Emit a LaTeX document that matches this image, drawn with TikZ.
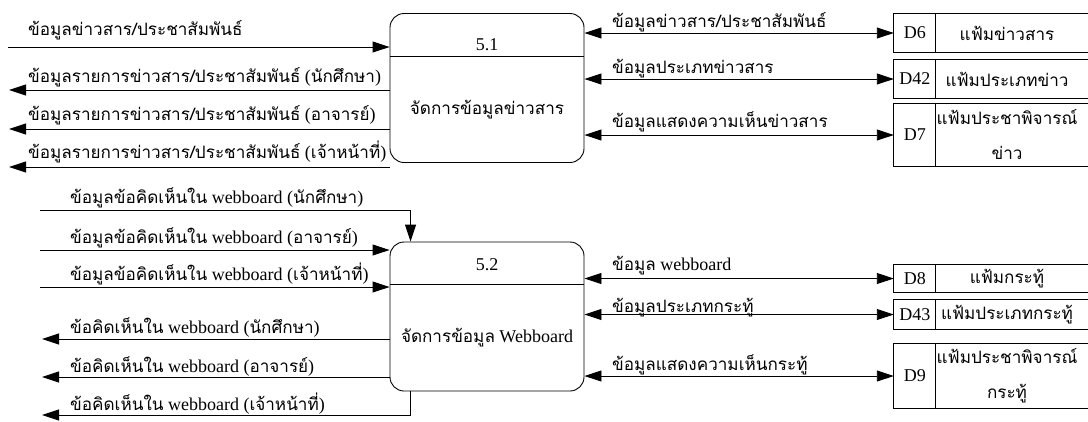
\documentclass[tikz,border=0pt]{standalone}
\usepackage{fontspec}
\setmainfont{Liberation Serif}
\newfontfamily\thai[Script=Thai,Scale=0.95]{Loma}
\usetikzlibrary{arrows.meta}
\begin{document}
\begin{tikzpicture}[x=1pt,y=-1pt,
  flow/.style={line width=0.9pt,-{Triangle[length=17pt,width=11pt]}},
  biflow/.style={line width=0.9pt,{Triangle[length=17pt,width=11pt]}-{Triangle[length=17pt,width=11pt]}},
  lbl/.style={anchor=base west,inner sep=0pt,font=\fontsize{18}{20}\selectfont},
  ctext/.style={inner sep=0pt,font=\fontsize{18}{20}\selectfont,align=center},
  proc/.style={draw,line width=0.9pt,rounded corners=14pt,minimum width=194pt,minimum height=149pt,inner sep=0pt},
  storebox/.style={inner sep=0pt,minimum width=194pt},
  storeline/.style={line width=0.9pt}
]
\useasboundingbox (0,0) rectangle (1088,421);
% ---------- processes
\node[proc] (p51) at (487,88) {};
\draw[storeline] (390,56) -- (584,56);
\node[ctext] (n51) at (487,45) {5.1};
\node[ctext] (t51) at (487,110) {\thai จัดการข้อมูลข่าวสาร};
\node[proc] (p52) at (487,316.5) {};
\draw[storeline] (390,284) -- (584,284);
\node[ctext] (n52) at (487,265) {5.2};
\node[ctext] (t52) at (487,338) {{\thai จัดการข้อมูล} Webboard};
% ---------- stores
\newcommand{\mystore}[5]{%
  \node[storebox,minimum height=#3pt] (#1) at (991,#2) {};
  \draw[storeline] (#1.north east) -- (#1.north west) -- (#1.south west) -- (#1.south east);
  \draw[storeline] ([xshift=42pt]#1.north west) -- ([xshift=42pt]#1.south west);
  \node[ctext] (#1id) at ([xshift=21pt]#1.west) {#4};
  \node[ctext] (#1nm) at (1007,#2) {#5};
}
\mystore{d6}{33}{38}{D6}{\thai แฟ้มข่าวสาร}
\mystore{d42}{79}{38}{D42}{\thai แฟ้มประเภทข่าว}
\mystore{d7}{135}{62}{D7}{\thai แฟ้มประชาพิจารณ์\\[15pt]\thai ข่าว}
\mystore{d8}{278.5}{27}{D8}{\thai แฟ้มกระทู้}
\mystore{d43}{314.5}{29}{D43}{\thai แฟ้มประเภทกระทู้}
\mystore{d9}{376}{64}{D9}{\thai แฟ้มประชาพิจารณ์\\[15pt]\thai กระทู้}
% ---------- right flows
\draw[biflow] (p51.east |- d6.west) -- (d6.west);
\draw[biflow] (p51.east |- d42.west) -- (d42.west);
\draw[biflow] (p51.east |- d7.west) -- (d7.west);
\draw[biflow] (p52.east |- d8.west) -- (d8.west);
\draw[biflow] (p52.east |- d43.west) -- (d43.west);
\draw[biflow] (p52.east |- d9.west) -- (d9.west);
\node[lbl] (r1) at (612,27) {\thai ข้อมูลข่าวสาร/ประชาสัมพันธ์};
\node[lbl] (r2) at (612,73) {\thai ข้อมูลประเภทข่าวสาร};
\node[lbl] (r3) at (612,127) {\thai ข้อมูลแสดงความเห็นข่าวสาร};
\node[lbl] (r4) at (612,270) {{\thai ข้อมูล} webboard};
\node[lbl] (r5) at (612,312) {\thai ข้อมูลประเภทกระทู้};
\node[lbl] (r6) at (612,370) {\thai ข้อมูลแสดงความเห็นกระทู้};
% ---------- left flows, top
\coordinate (a1) at (8,47);
\coordinate (a2) at (9,90);
\coordinate (a3) at (9,129);
\coordinate (a4) at (9,167);
\draw[flow] (a1) -- (p51.west |- a1);
\draw[flow] (p51.west |- a2) -- (a2);
\draw[flow] (p51.west |- a3) -- (a3);
\draw[flow] (p51.west |- a4) -- (a4);
\node[lbl] (l1) at (28,35) {\thai ข้อมูลข่าวสาร/ประชาสัมพันธ์};
\node[lbl] (l2) at (28,82) {{\thai ข้อมูลรายการข่าวสาร/ประชาสัมพันธ์} ({\thai นักศึกษา})};
\node[lbl] (l3) at (28,120) {{\thai ข้อมูลรายการข่าวสาร/ประชาสัมพันธ์} ({\thai อาจารย์})};
\node[lbl] (l4) at (28,158) {{\thai ข้อมูลรายการข่าวสาร/ประชาสัมพันธ์} ({\thai เจ้าหน้าที่})};
% ---------- left flows, bottom
\coordinate (b1) at (40,210);
\coordinate (b2) at (40,250);
\coordinate (b3) at (40,287);
\coordinate (b4) at (42,339);
\coordinate (b5) at (42,377);
\coordinate (b6) at (42,415);
\draw[flow] (b1) -| ([xshift=21pt]p52.north west);
\draw[flow] (b2) -- (p52.west |- b2);
\draw[flow] (b3) -- (p52.west |- b3);
\draw[flow] (p52.west |- b4) -- (b4);
\draw[flow] (p52.west |- b5) -- (b5);
\draw[flow] ([xshift=21pt]p52.south west) |- (b6);
\node[lbl] (m1) at (70,203) {{\thai ข้อมูลข้อคิดเห็นใน} webboard ({\thai นักศึกษา})};
\node[lbl] (m2) at (70,243) {{\thai ข้อมูลข้อคิดเห็นใน} webboard ({\thai อาจารย์})};
\node[lbl] (m3) at (70,280) {{\thai ข้อมูลข้อคิดเห็นใน} webboard ({\thai เจ้าหน้าที่})};
\node[lbl] (m4) at (70,333) {{\thai ข้อคิดเห็นใน} webboard ({\thai นักศึกษา})};
\node[lbl] (m5) at (70,372) {{\thai ข้อคิดเห็นใน} webboard ({\thai อาจารย์})};
\node[lbl] (m6) at (70,410) {{\thai ข้อคิดเห็นใน} webboard ({\thai เจ้าหน้าที่})};
\end{tikzpicture}
\end{document}
